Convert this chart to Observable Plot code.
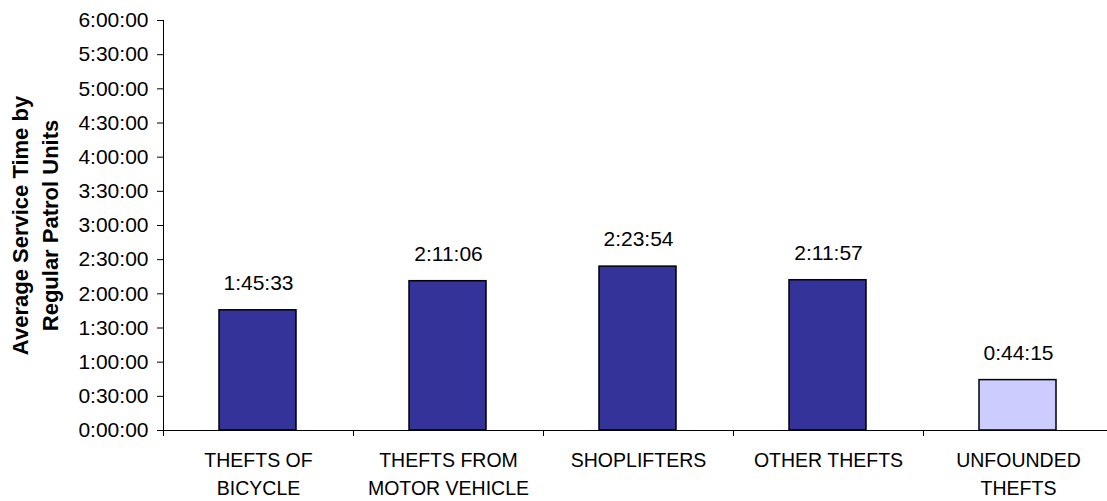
<!DOCTYPE html>
<html>
<head>
<meta charset="utf-8">
<script src="https://cdn.jsdelivr.net/npm/d3@7"></script>
<script src="https://cdn.jsdelivr.net/npm/@observablehq/plot@0.6"></script>
<style>
  html, body { margin: 0; padding: 0; background: #fff; }
  #chart svg { display: block; }
</style>
</head>
<body>
<div id="chart"></div>
<script>
const categories = ["THEFTS OF\nBICYCLE", "THEFTS FROM\nMOTOR VEHICLE", "SHOPLIFTERS", "OTHER THEFTS", "UNFOUNDED\nTHEFTS"];
const valueLabels = ["1:45:33", "2:11:06", "2:23:54", "2:11:57", "0:44:15"];
const valueSeconds = [6333, 7866, 8634, 7917, 2655];
const yTicks = [0, 1800, 3600, 5400, 7200, 9000, 10800, 12600, 14400, 16200, 18000, 19800, 21600];
const yTitle = ["Average Service Time by\nRegular Patrol Units"];

const data = categories.map((c, i) => ({index: i, category: c, label: valueLabels[i], seconds: valueSeconds[i]}));

const fmt = s => {
  const h = Math.floor(s / 3600), m = Math.floor((s % 3600) / 60), sec = s % 60;
  return `${h}:${String(m).padStart(2, "0")}:${String(sec).padStart(2, "0")}`;
};

const font = "'Liberation Sans', Arial, sans-serif";

const chart = Plot.plot({
  width: 1107,
  height: 501,
  marginTop: 20,
  marginBottom: 71,
  marginLeft: 163,
  marginRight: 0,
  style: {fontFamily: font, color: "#000", background: "#fff"},
  x: {type: "linear", domain: [0, categories.length], range: [163, 1113], axis: null},
  y: {domain: [0, 21600], axis: null},
  marks: [
    Plot.rectY(data, {
      x1: d => d.index, x2: d => d.index + 1, y: "seconds",
      insetLeft: 56, insetRight: 57,
      fill: d => d.category.startsWith("UNFOUNDED") ? "#CCCCFF" : "#333399",
      stroke: "#000", strokeWidth: 1.5
    }),
    Plot.text(data, {
      x: d => d.index + 0.5, y: "seconds", text: "label",
      dy: -27, fontSize: 21, fill: "#000"
    }),
    Plot.ruleY([0], {stroke: "#000", strokeWidth: 1}),
    Plot.ruleX([0], {y1: 0, y2: 21600, stroke: "#000", strokeWidth: 1}),
    Plot.axisY({ticks: yTicks, tickFormat: fmt, tickSize: 6, tickPadding: 9, fontSize: 21, stroke: "#000", fill: "#000", label: null}),
    Plot.axisX({ticks: d3.range(0, categories.length + 1), tickFormat: () => "", tickSize: 6, stroke: "#000", label: null}),
    Plot.text(data, {
      x: d => d.index + 0.5, text: "category",
      frameAnchor: "bottom", lineAnchor: "top", dy: 16,
      lineHeight: 1.46, fontSize: 19.5, fill: "#000"
    }),
    Plot.text(yTitle, {
      text: d => d, frameAnchor: "left", textAnchor: "middle", rotate: -90,
      dx: -130, lineHeight: 1.36, fontSize: 22, fontWeight: "bold", fill: "#000"
    })
  ]
});

document.getElementById("chart").appendChild(chart);
</script>
</body>
</html>
